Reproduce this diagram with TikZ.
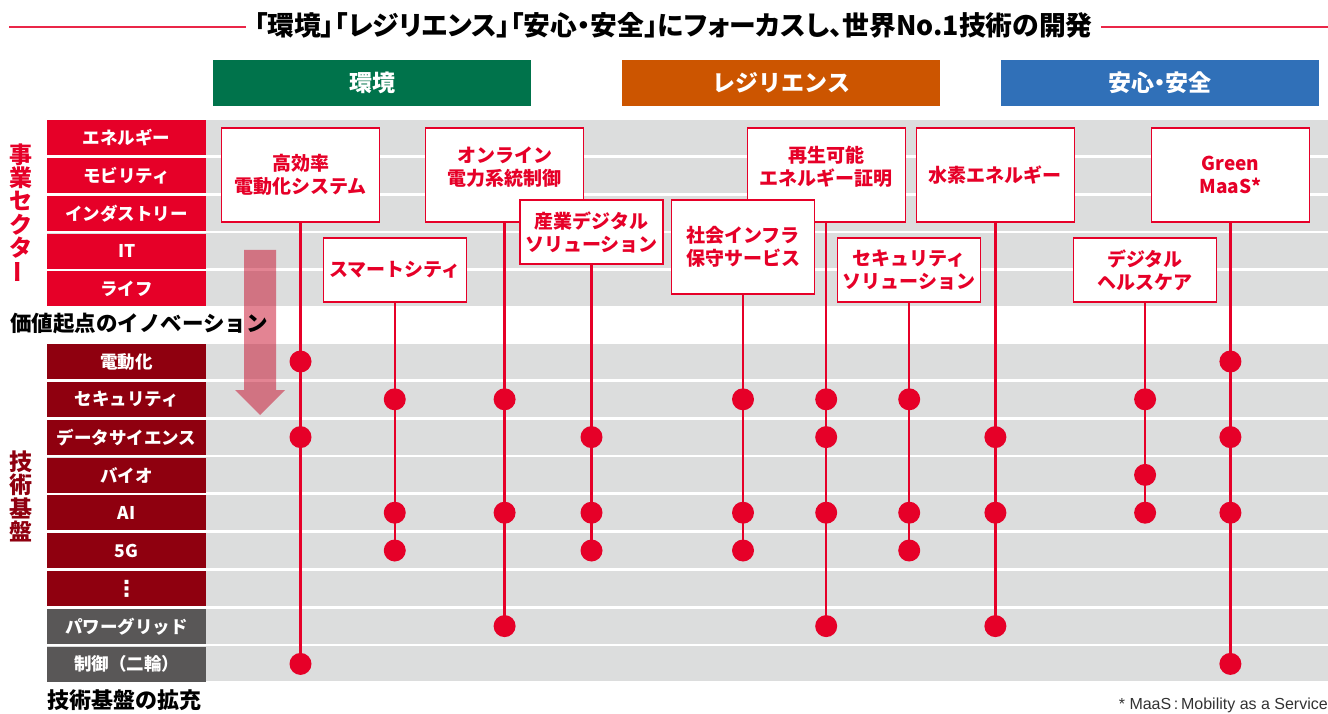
\documentclass[tikz,border=0pt]{standalone}
\usepackage{fontspec}
\usepackage{graphicx}
\setmainfont{Noto Sans CJK JP}
\newfontfamily\titlefont{Noto Sans CJK JP}[RawFeature=+palt]
\newfontfamily\libfont{Liberation Sans}
\newfontfamily\dejavufont{DejaVu Sans}
\newcommand\myfs[2]{\fontsize{#1}{#2}\selectfont}
\definecolor{secred}{RGB}{230,0,40}
\definecolor{techred}{RGB}{143,0,15}
\definecolor{techgray}{RGB}{89,87,87}
\definecolor{rowgray}{RGB}{220,221,221}
\definecolor{envgreen}{RGB}{0,115,75}
\definecolor{resorange}{RGB}{204,85,0}
\definecolor{safeblue}{RGB}{48,112,184}
\definecolor{arrowred}{RGB}{200,10,40}
\definecolor{notegray}{RGB}{50,50,50}
\begin{document}
\begin{tikzpicture}[x=1pt,y=-1pt,
  hdr/.style={minimum width=318pt, minimum height=46pt, inner sep=0pt, text=white, font=\bfseries\myfs{23}{23}},
  seclabel/.style={minimum width=159pt, minimum height=35pt, inner sep=0pt, text=white, font=\bfseries\myfs{17.5}{17.5}},
  pbox/.style={draw=secred, line width=1.4pt, fill=white, text=secred, font=\bfseries\myfs{19}{23}, align=center, inner sep=0pt},
  boxtext/.style={inner sep=0pt, text=secred, font=\bfseries\myfs{19}{23}, align=center},
  bigbox/.style={pbox, minimum width=158pt, minimum height=94pt},
  midbox/.style={pbox, minimum width=143pt, minimum height=64pt},
  tallbox/.style={pbox, minimum width=143pt, minimum height=94pt},
  vchar/.style={inner sep=0pt, font=\bfseries\myfs{23}{23}},
  dot/.style={circle, fill=secred, minimum size=22pt, inner sep=0pt},
  vline/.style={draw=secred, line width=2.4pt},
  tline/.style={draw=secred!85, line width=1.3pt},
  blacktext/.style={inner sep=0pt, font=\bfseries\myfs{21.5}{21.5}, text=black}
]
\useasboundingbox (0,0) rectangle (1328,714);

% title
\node[inner sep=0pt, font=\titlefont\bfseries\myfs{26.8}{26.8}] (title) at (673.5,25) {「環境」「レジリエンス」「安心・安全」にフォーカスし、世界No.1技術の開発};
\coordinate (tl) at (9,27);
\coordinate (tr) at (1328,27);
\draw[tline] (tl) -- ([xshift=-8pt]title.west |- tl);
\draw[tline] ([xshift=8pt]title.east |- tr) -- (tr);

% pillar headers
\node[hdr, fill=envgreen, anchor=north west] (h1) at (213,60) {環境};
\node[hdr, fill=resorange, anchor=north west] (h2) at (622,60) {レジリエンス};
\node[hdr, fill=safeblue, anchor=north west] (h3) at (1001,60) {\titlefont 安心・安全};

% top rows (business sectors)
\foreach \t [count=\i] in {エネルギー,モビリティ,インダストリー,IT,ライフ}{
  \fill[rowgray] (47,{120+37.8*(\i-1)}) rectangle (1328,{155+37.8*(\i-1)});
  \node[seclabel, fill=secred, anchor=north west] (s\i) at (47,{120+37.8*(\i-1)}) {\t};
}
% bottom rows (technology bases)
\foreach \t/\c [count=\i] in {電動化/techred,セキュリティ/techred,データサイエンス/techred,バイオ/techred,AI/techred,5G/techred,{\dejavufont\myfs{22}{22}⋮}/techred,パワーグリッド/techgray,制御（二輪）/techgray}{
  \fill[rowgray] (47,{344+37.8*(\i-1)}) rectangle (1328,{379+37.8*(\i-1)});
  \node[seclabel, fill=\c, anchor=north west] (t\i) at (47,{344+37.8*(\i-1)}) {\t};
  \coordinate (r\i) at (0,{361.5+37.8*(\i-1)});
}

% vertical side labels
\foreach \ch [count=\i] in {事,業,セ,ク,タ}{
  \node[vchar, text=secred] (v\i) at (21,{154.5+23.3*(\i-1)}) {\ch};
}
\node[vchar, text=secred] (v6) at (21,272) {\rotatebox[origin=c]{90}{ー}};
\foreach \ch [count=\i] in {技,術,基,盤}{
  \node[vchar, text=techred] (w\i) at (21,{461.5+23.3*(\i-1)}) {\ch};
}

% big arrow
\fill[arrowred, opacity=0.5] (244,250) -- (276,250) -- (276,390) -- (285,390) -- (260,415) -- (235,390) -- (244,390) -- cycle;

% texts
\node[blacktext, anchor=west] (innov) at (10,324) {価値起点のイノベーション};
\node[blacktext, anchor=west, font=\bfseries\myfs{22}{22}] (expand) at (47,700) {技術基盤の拡充};
\node[inner sep=0pt, anchor=east, font=\libfont\myfs{16}{16}, text=notegray] (note) at (1328,705) {* MaaS\,:\,Mobility as a Service};

% solution boxes
\node[bigbox] (b1) at (300.5,175) {高効率\\電動化システム};
\node[bigbox] (b2) at (504.6,175) {};
\node[boxtext] (b2t) at (504.6,167) {オンライン\\電力系統制御};
\node[midbox] (b3) at (591.5,232) {産業デジタル\\ソリューション};
\node[midbox] (b4) at (394.75,270) {スマートシティ};
\node[bigbox] (b5) at (826.2,175) {};
\node[boxtext] (b5t) at (826.2,167) {再生可能\\エネルギー証明};
\node[tallbox] (b6) at (743,247) {社会インフラ\\保守サービス};
\node[midbox] (b7) at (909.2,270) {セキュリティ\\ソリューション};
\node[bigbox] (b8) at (995.4,175) {水素エネルギー};
\node[midbox] (b9) at (1145.1,270) {デジタル\\ヘルスケア};
\node[bigbox] (b10) at (1230.4,175) {Green\\MaaS*};

% dots and connectors
\foreach \b/\rows/\last in {b1/{1,3,9}/9, b4/{2,5,6}/6, b2/{2,5,8}/8, b3/{3,5,6}/6, b6/{2,5,6}/6, b5/{2,3,5,8}/8, b7/{2,5,6}/6, b8/{3,5,8}/8, b9/{2,4,5}/5, b10/{1,3,5,9}/9}{
  \foreach \j in \rows {
    \node[dot] (\b-\j) at (\b.south |- r\j) {};
  }
  \draw[vline] (\b.south) -- (\b-\last.center);
}
\end{tikzpicture}
\end{document}
